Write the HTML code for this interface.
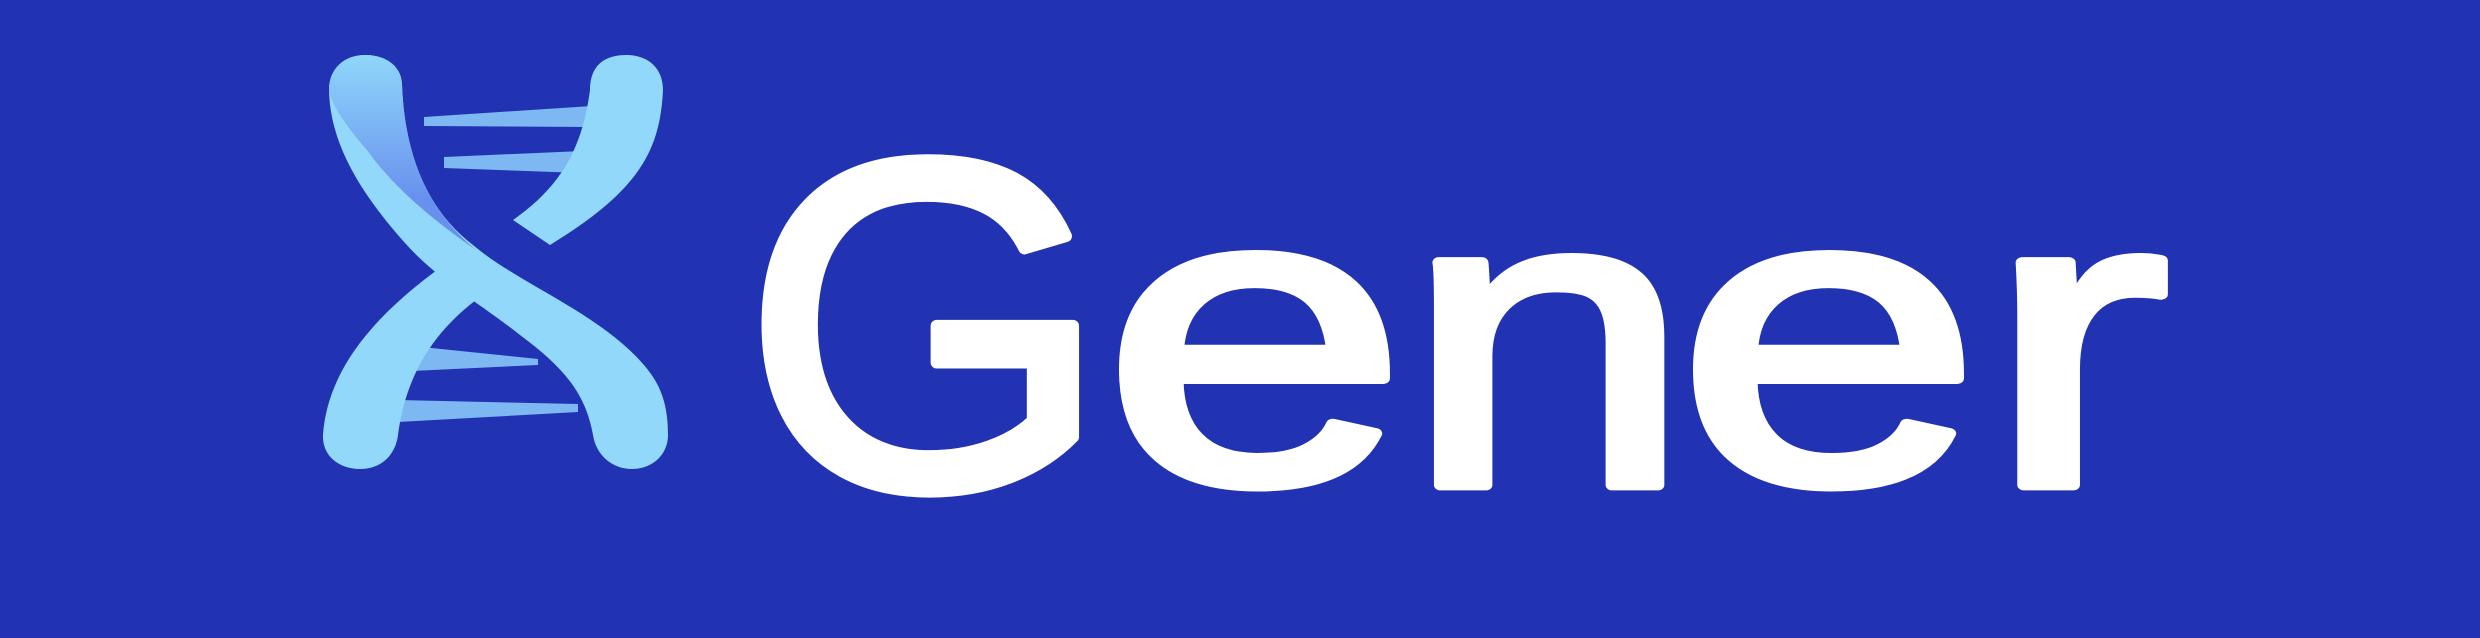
<!DOCTYPE html>
<html><head><meta charset="utf-8"><style>
html,body{margin:0;padding:0;background:#2133B2;}
svg{display:block;}
text{font-family:"Liberation Sans",sans-serif;font-weight:400;fill:#fff;stroke:#fff;stroke-width:12;stroke-linejoin:round;}
</style></head><body>
<svg width="2480" height="638" viewBox="0 0 2480 638">
<defs>
<linearGradient id="g1" x1="0" y1="55" x2="0" y2="200" gradientUnits="userSpaceOnUse">
<stop offset="0" stop-color="#8FD6FA"/><stop offset="1" stop-color="#6890EE"/>
</linearGradient>
</defs>
<rect width="2480" height="638" fill="#2133B2"/>
<g>
<polygon fill="#7DB8F2" points="424,117 592,106 592,127 424,126"/>
<polygon fill="#7DB8F2" points="444,157 582,151 582,173 444,168"/>
<polygon fill="#7DB8F2" points="412,346 538,359 538,365 412,371"/>
<polygon fill="#7DB8F2" points="398,400 578,404 578,412 398,422"/>
<path fill="#92D8FA" d="M590,90 C590,65 605,55 626,55 C648,55 663,68 663,90 C660,150 640,190 550,245 L513,220 C560,187 582,150 590,90 Z"/>
<path fill="#92D8FA" d="M437,270 C390,305 328,360 323,435 C322,455 338,469 360,469 C384,469 396,452 398,435 C405,380 430,335 476,300 Z"/>
<path fill="#92D8FA" d="M329,90 C329,68 345,55 365,55 C388,55 402,68 402,85 C405,160 430,212 473,245 C520,285 605,315 648,370 C664,390 668,412 668,435 C668,455 652,469 632,469 C612,469 596,455 593,435 C585,390 560,365 520,335 C478,302 438,280 405,243 C356,188 330,140 329,90 Z"/>
<path fill="url(#g1)" d="M329,90 C329,68 345,55 365,55 C388,55 402,68 402,85 C405,160 430,212 476,250 C440,225 395,190 367,150 C345,125 332,105 329,90 Z"/>
</g>
<g>
<text x="926" y="487" font-size="468" text-anchor="middle">G</text>
<g transform="translate(1255,482) scale(1.17,0.9)"><text x="0" y="0" font-size="468" text-anchor="middle">e</text></g>
<g transform="translate(1548,485) scale(1.1,0.9)"><text x="0" y="0" font-size="468" text-anchor="middle">n</text></g>
<g transform="translate(1829,482) scale(1.17,0.9)"><text x="0" y="0" font-size="468" text-anchor="middle">e</text></g>
<g transform="translate(2078,485) scale(1.18,0.9)"><text x="0" y="0" font-size="468" text-anchor="middle">r</text></g>
</g>
</svg>
</body></html>
